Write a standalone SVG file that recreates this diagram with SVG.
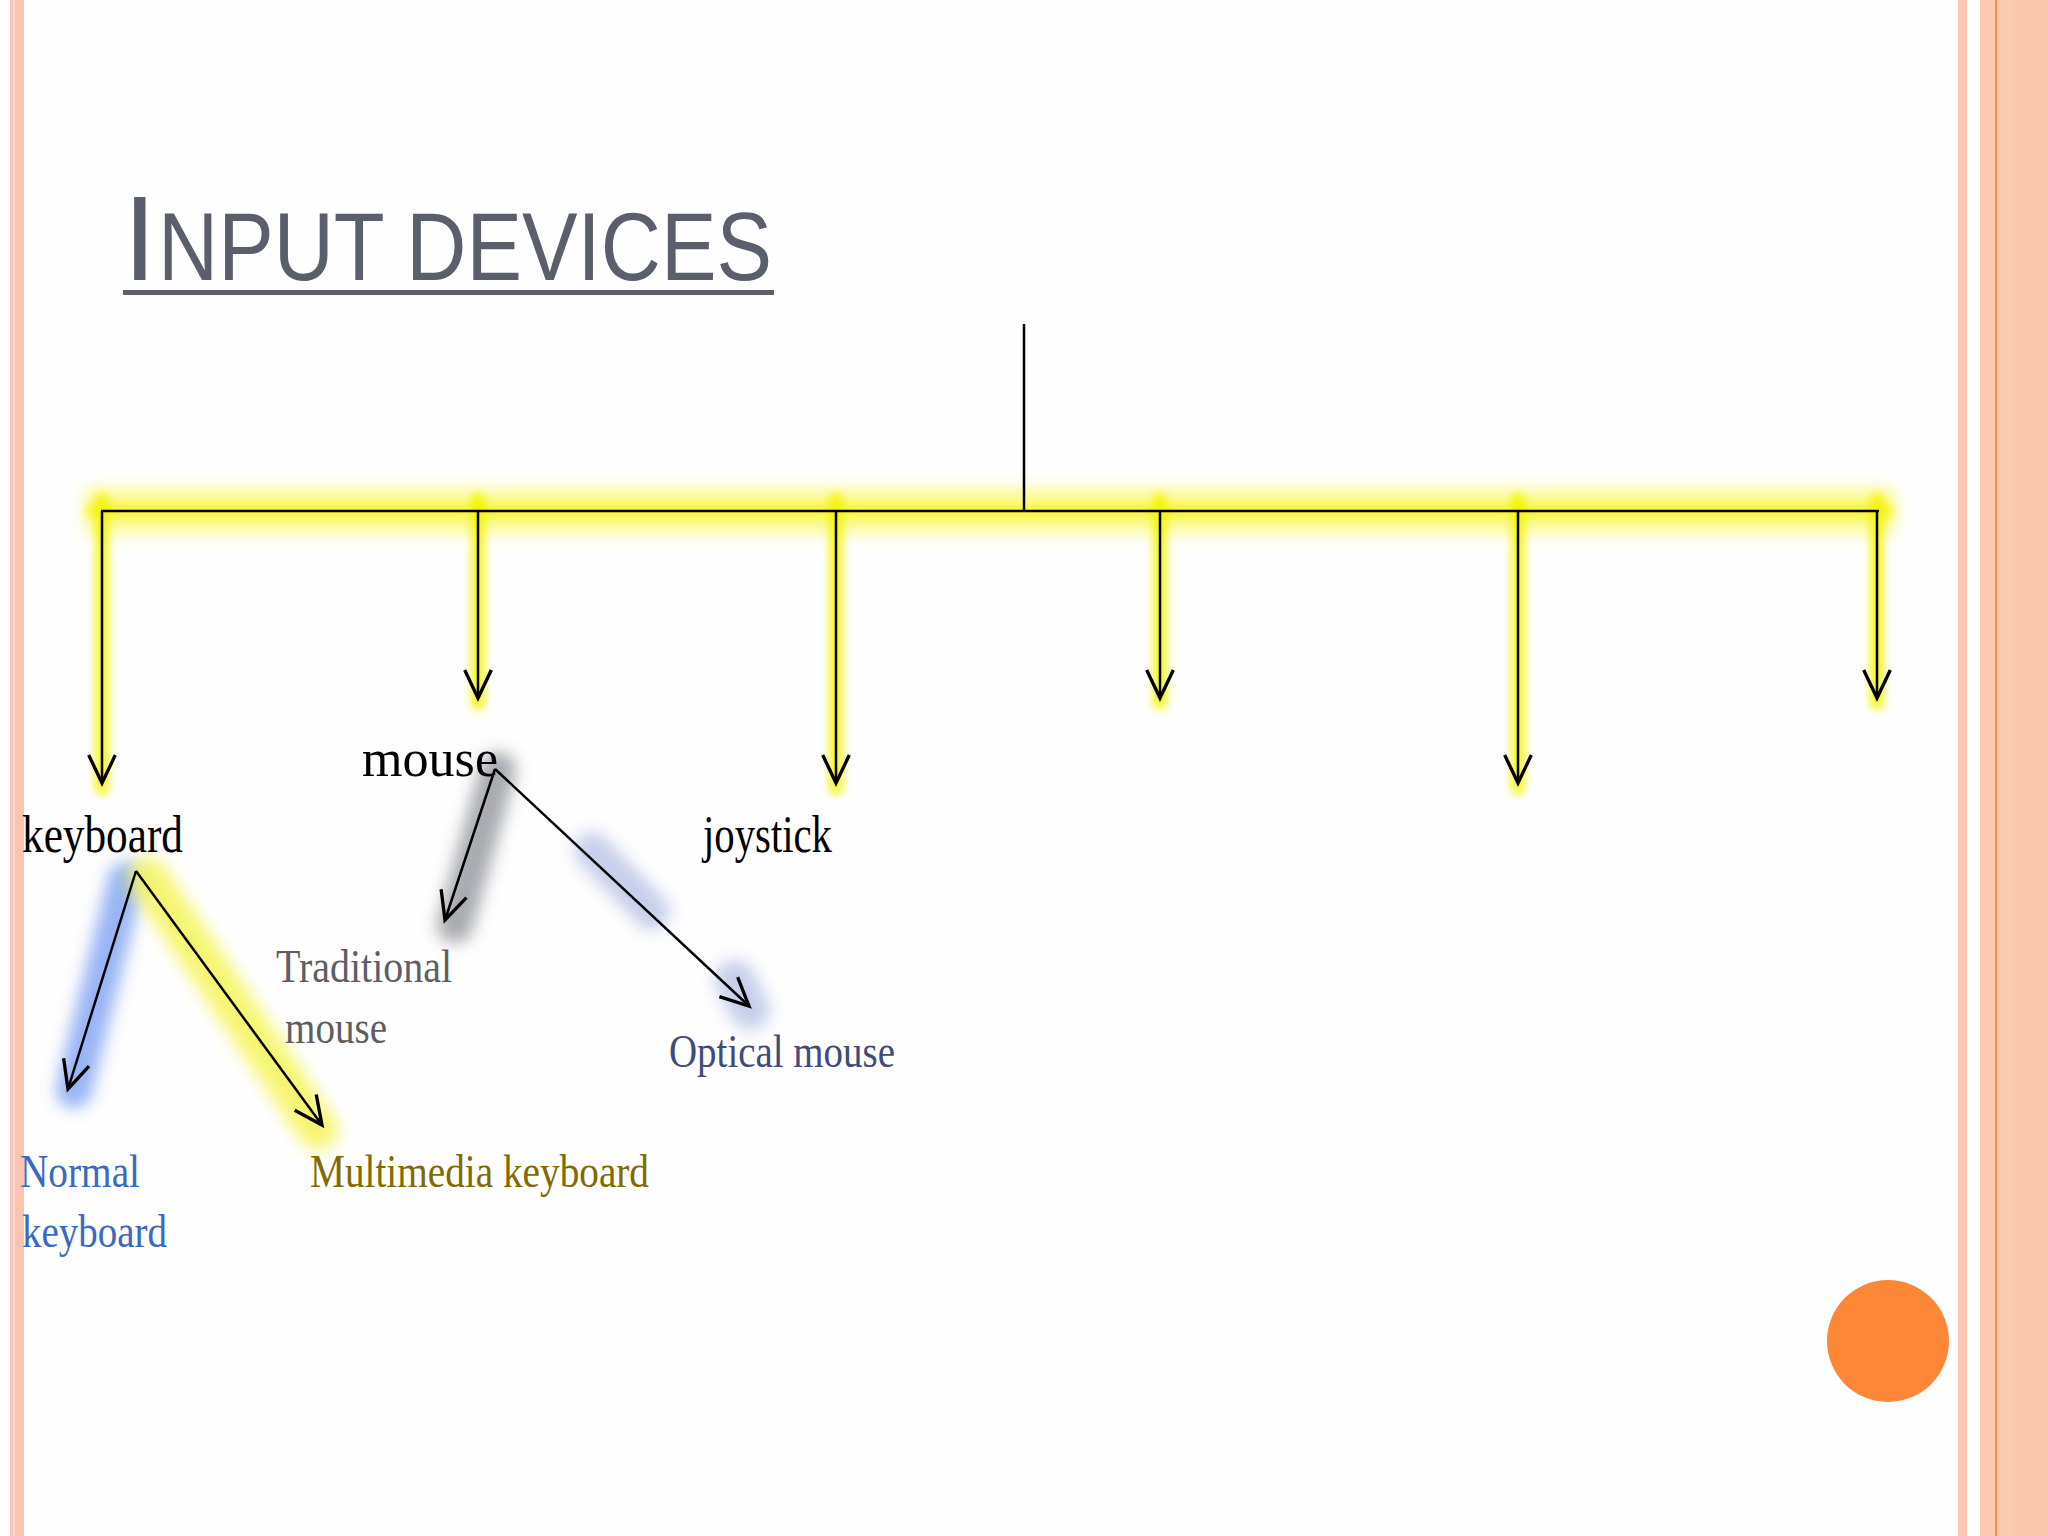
<svg xmlns="http://www.w3.org/2000/svg" width="2048" height="1536" viewBox="0 0 2048 1536">
  <style>
    .lbl { font-family: "Liberation Serif", "DejaVu Serif", serif; }
    .blk { font-size: 52px; fill: #000; }
    .sub { font-size: 46px; }
    .conn { stroke: #000; stroke-width: 2.5; fill: none; }
    .glowY { stroke: #f4f400; fill: none; stroke-linecap: round; }
  </style>
  <defs>
    <marker id="arr" markerUnits="userSpaceOnUse" markerWidth="40" markerHeight="40" viewBox="-25 -15 30 30" refX="0" refY="0" orient="auto" overflow="visible">
      <path d="M-21,-10 L0,0 L-21,10" fill="none" stroke="#000" stroke-width="2.5"/>
    </marker>
    <filter id="blurS" filterUnits="userSpaceOnUse" x="0" y="0" width="2048" height="1536"><feGaussianBlur stdDeviation="4"/></filter>
    <filter id="blurM" filterUnits="userSpaceOnUse" x="0" y="0" width="2048" height="1536"><feGaussianBlur stdDeviation="8"/></filter>
  </defs>

  <rect x="0" y="0" width="2048" height="1536" fill="#fefefe"/>

  <!-- left border -->
  <g id="left-border">
    <rect x="10" y="0" width="14" height="1536" fill="#fcc4ae"/>
    <rect x="13" y="0" width="2" height="1536" fill="#fde0d4"/>
  </g>
  <!-- right border -->
  <g id="right-border">
    <rect x="1958" y="0" width="9" height="1536" fill="#fcc6b2"/>
    <rect x="1980" y="0" width="68" height="1536" fill="#fccab1"/>
    <rect x="2013" y="0" width="35" height="1536" fill="#fac7ae"/>
    <rect x="1995" y="0" width="2" height="1536" fill="#f08a4c"/>
  </g>
  <circle id="dot" cx="1888" cy="1341" r="61" fill="#fd8637"/>

  <!-- title -->
  <g id="title" font-family="Liberation Sans, DejaVu Sans, sans-serif" fill="#5b5f6b">
    <text x="123" y="280" font-size="121">I</text>
    <text x="158" y="280" font-size="97" textLength="614" lengthAdjust="spacingAndGlyphs">NPUT DEVICES</text>
    <rect x="123" y="290" width="651" height="5"/>
  </g>

  <!-- highlights -->
  <g id="highlights">
    <rect x="86" y="489" width="1808" height="44" fill="#f8f870" filter="url(#blurM)" opacity="0.8"/>
    <rect x="86" y="504" width="1808" height="14" fill="#f4f41c" filter="url(#blurS)" opacity="0.7"/>
    <g class="glowY" stroke-width="14" filter="url(#blurS)" opacity="0.85">
      <line x1="102" y1="500" x2="102" y2="788"/>
      <line x1="478" y1="500" x2="478" y2="703"/>
      <line x1="836" y1="500" x2="836" y2="788"/>
      <line x1="1160" y1="500" x2="1160" y2="703"/>
      <line x1="1518" y1="500" x2="1518" y2="788"/>
      <line x1="1877" y1="500" x2="1877" y2="703"/>
    </g>
    <line x1="126" y1="880" x2="74" y2="1090" stroke="#7ea2f2" stroke-width="36" stroke-linecap="round" filter="url(#blurM)" opacity="0.8"/>
    <line x1="148" y1="878" x2="318" y2="1130" stroke="#f4f45a" stroke-width="40" stroke-linecap="round" filter="url(#blurM)" opacity="0.85"/>
    <line x1="498" y1="770" x2="455" y2="925" stroke="#8e8f96" stroke-width="36" stroke-linecap="round" filter="url(#blurM)" opacity="0.75"/>
    <line x1="592" y1="850" x2="652" y2="912" stroke="#b4c0e2" stroke-width="36" stroke-linecap="round" filter="url(#blurM)" opacity="0.75"/>
    <line x1="735" y1="980" x2="750" y2="1010" stroke="#b4c0e2" stroke-width="40" stroke-linecap="round" filter="url(#blurM)" opacity="0.75"/>
  </g>

  <!-- connectors -->
  <g id="connectors">
    <line class="conn" x1="1024" y1="324" x2="1024" y2="511" stroke-width="2"/>
    <line class="conn" x1="101" y1="511" x2="1879" y2="511" stroke-width="4"/>
    <line class="conn" x1="102" y1="511" x2="102" y2="783" marker-end="url(#arr)"/>
    <line class="conn" x1="478" y1="511" x2="478" y2="698" marker-end="url(#arr)"/>
    <line class="conn" x1="836" y1="511" x2="836" y2="783" marker-end="url(#arr)"/>
    <line class="conn" x1="1160" y1="511" x2="1160" y2="698" marker-end="url(#arr)"/>
    <line class="conn" x1="1518" y1="511" x2="1518" y2="783" marker-end="url(#arr)"/>
    <line class="conn" x1="1877" y1="511" x2="1877" y2="698" marker-end="url(#arr)"/>
    <line class="conn" x1="136" y1="871" x2="68" y2="1089" marker-end="url(#arr)"/>
    <line class="conn" x1="136" y1="871" x2="322" y2="1125" marker-end="url(#arr)"/>
    <line class="conn" x1="495" y1="769" x2="445" y2="920" marker-end="url(#arr)"/>
    <line class="conn" x1="495" y1="769" x2="749" y2="1006" marker-end="url(#arr)"/>
  </g>

  <!-- nodes -->
  <g id="node-mouse"><text class="lbl blk" x="362" y="776" textLength="136" lengthAdjust="spacingAndGlyphs">mouse</text></g>
  <g id="node-keyboard"><text class="lbl blk" x="22" y="852" textLength="161" lengthAdjust="spacingAndGlyphs">keyboard</text></g>
  <g id="node-joystick"><text class="lbl blk" x="703" y="852" textLength="129" lengthAdjust="spacingAndGlyphs">joystick</text></g>
  <g id="node-traditional-mouse" fill="#5e5e62">
    <text class="lbl sub" x="276" y="982" textLength="176" lengthAdjust="spacingAndGlyphs">Traditional</text>
    <text class="lbl sub" x="285" y="1043" textLength="102" lengthAdjust="spacingAndGlyphs">mouse</text>
  </g>
  <g id="node-optical-mouse" fill="#3f4c7a">
    <text class="lbl sub" x="669" y="1067" textLength="226" lengthAdjust="spacingAndGlyphs">Optical mouse</text>
  </g>
  <g id="node-normal-keyboard" fill="#3a69c2">
    <text class="lbl sub" x="20" y="1187" textLength="120" lengthAdjust="spacingAndGlyphs">Normal</text>
    <text class="lbl sub" x="22" y="1247" textLength="145" lengthAdjust="spacingAndGlyphs">keyboard</text>
  </g>
  <g id="node-multimedia-keyboard" fill="#7f6b00">
    <text class="lbl sub" x="310" y="1187" textLength="339" lengthAdjust="spacingAndGlyphs">Multimedia keyboard</text>
  </g>
</svg>
